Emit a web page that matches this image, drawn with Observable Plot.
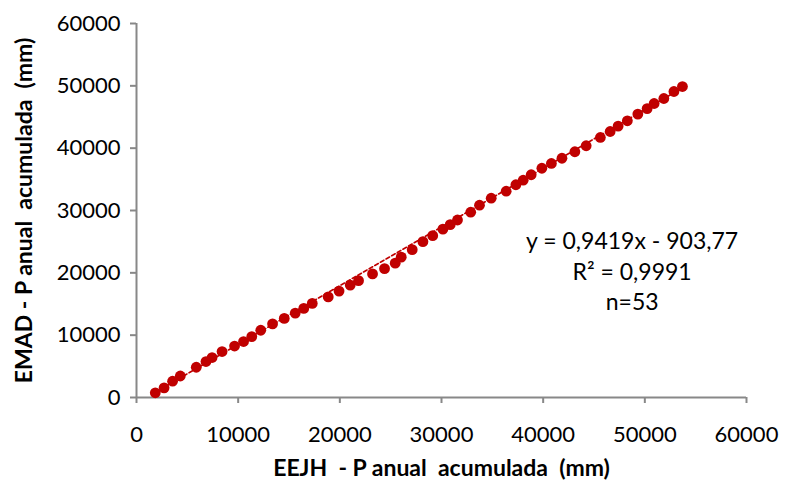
<!DOCTYPE html>
<html>
<head>
<meta charset="utf-8">
<script src="https://cdn.jsdelivr.net/npm/d3@7"></script>
<script src="https://cdn.jsdelivr.net/npm/@observablehq/plot@0.6"></script>
<style>
  html, body { margin: 0; padding: 0; background: #ffffff; }
  #chart svg { display: block; }
</style>
</head>
<body>
<div id="chart"></div>
<script>
// EEJH cumulative annual precipitation (mm) - x values
const eejh = [1849, 2714, 3550, 4307, 5880, 6834, 7434, 8417, 9646, 10531,
  11338, 12223, 13383, 14533, 15615, 16451, 17286, 18860, 19922, 21023,
  21839, 23216, 24396, 25448, 26038, 27119, 28172, 29135, 30138, 30856,
  31574, 32872, 33737, 34888, 36362, 37316, 38034, 38821, 39872, 40807,
  41849, 43118, 44229, 45625, 46589, 47375, 48280, 49312, 50227, 50915,
  51869, 52862, 53698];
// EMAD cumulative annual precipitation (mm) - y values
const emad = [753, 1555, 2612, 3446, 4856, 5769, 6410, 7372, 8253, 8975,
  9776, 10785, 11811, 12693, 13542, 14295, 15096, 16138, 17068, 18029,
  18750, 19824, 20674, 21555, 22517, 23718, 25001, 25962, 27004, 27725,
  28478, 29728, 30850, 31972, 33094, 34135, 34857, 35738, 36780, 37549,
  38382, 39424, 40386, 41716, 42677, 43543, 44392, 45466, 46347, 47165,
  47966, 49088, 49889];

const xTicks = [0, 10000, 20000, 30000, 40000, 50000, 60000];
const yTicks = [0, 10000, 20000, 30000, 40000, 50000, 60000];

// trendline coefficients shown on the chart
const slope = 0.9419;
const intercept = -903.77;
const annotationLines = ["y = 0,9419x - 903,77", "R² = 0,9991", "n=53"];
const annotationPos = {x: 48750, y: 20500};

const xTitle = "EEJH  - P anual  acumulada  (mm)";
const yTitle = "EMAD - P anual  acumulada  (mm)";

const points = eejh.map((x, i) => ({x, y: emad[i]}));
const trend = d3.extent(eejh).map(x => ({x, y: slope * x + intercept}));

const red = "#c00000";
const axisGrey = "#888888";

const chart = Plot.plot({
  width: 787,
  height: 481,
  marginLeft: 136,
  marginRight: 41,
  marginTop: 23,
  marginBottom: 84,
  style: {fontFamily: "Lato, 'Open Sans', sans-serif", fontSize: "22px", background: "#ffffff", color: "#000"},
  x: {domain: [0, 60000]},
  y: {domain: [0, 60000]},
  marks: [
    Plot.axisX({ticks: xTicks, tickSize: 6, tickPadding: 23, stroke: axisGrey, strokeWidth: 2, fill: "#000", tickFormat: d => String(d), label: null}),
    Plot.axisY({ticks: yTicks, tickSize: 6, tickPadding: 10, stroke: axisGrey, strokeWidth: 2, fill: "#000", tickFormat: d => String(d), label: null}),
    Plot.ruleX([0], {stroke: axisGrey, strokeWidth: 2}),
    Plot.ruleY([0], {stroke: axisGrey, strokeWidth: 2}),
    Plot.line(trend, {x: "x", y: "y", stroke: red, strokeWidth: 1.6, strokeDasharray: "4,2.5"}),
    Plot.dot(points, {x: "x", y: "y", r: 5.4, fill: red, stroke: "none"}),
    Plot.text([annotationLines.join("\n")], {x: () => annotationPos.x, y: () => annotationPos.y, text: d => d, fontSize: 23, lineHeight: 1.33, textAnchor: "middle", lineAnchor: "middle", fill: "#000"}),
    Plot.text([xTitle], {frameAnchor: "bottom", dy: 71, text: d => d, fontSize: 23, fontWeight: "bold", fill: "#000", textAnchor: "middle", lineAnchor: "middle"}),
    Plot.text([yTitle], {frameAnchor: "left", dx: -112, rotate: -90, text: d => d, fontSize: 23, fontWeight: "bold", fill: "#000", textAnchor: "middle", lineAnchor: "middle"})
  ]
});
chart.querySelectorAll("text").forEach(t => { t.setAttribute("xml:space", "preserve"); t.style.whiteSpace = "pre"; });
document.getElementById("chart").appendChild(chart);
</script>
</body>
</html>
